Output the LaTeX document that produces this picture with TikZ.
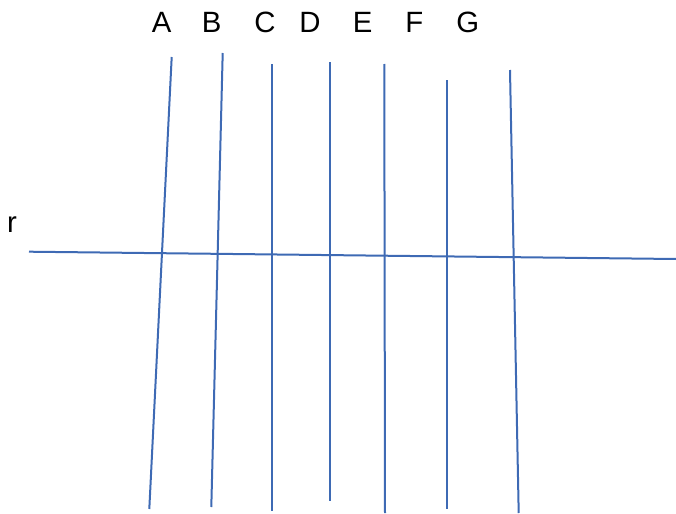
\documentclass[tikz,border=0pt]{standalone}
\usepackage{fontspec}
\setmainfont{Liberation Sans}
\usetikzlibrary{positioning}
\definecolor{lineblue}{RGB}{62,106,180}

\begin{document}
\begin{tikzpicture}[x=0.75pt, y=-0.75pt,
    blueline/.style={draw=lineblue, line width=1.5pt},
    lettre/.style={font=\fontsize{22}{26}\selectfont, inner sep=0pt}]
        \useasboundingbox (0,0) rectangle (676,514);

        % Nhãn các đường thẳng
        \node[lettre] (labA) at (161.7,22) {A};
        \node[lettre] (labB) at (211.7,22) {B};
        \node[lettre] (labC) at (265,22) {C};
        \node[lettre] (labD) at (310,22) {D};
        \node[lettre] (labE) at (362.7,22) {E};
        \node[lettre] (labF) at (414.3,22) {F};
        \node[lettre] (labG) at (467.7,22) {G};
        \node[lettre] (labr) at (12,225) {r};

        % Đầu mút các đường thẳng đứng
        \coordinate (Atop) at (171.7,57);   \coordinate (Abot) at (149.3,509);
        \coordinate (Btop) at (222.7,53);   \coordinate (Bbot) at (211.3,507);
        \coordinate (Ctop) at (272,64);     \coordinate (Cbot) at (272,510.7);
        \coordinate (Dtop) at (329.7,62);   \coordinate (Dbot) at (329.7,501);
        \coordinate (Etop) at (384.3,64);   \coordinate (Ebot) at (385,513);
        \coordinate (Ftop) at (446.7,80);   \coordinate (Fbot) at (446.7,509);
        \coordinate (Gtop) at (510,70);     \coordinate (Gbot) at (518.7,513);

        % Đường thẳng r
        \coordinate (rleft) at (29,251.7);
        \coordinate (rright) at (676,259);

        % Vẽ các đường
        \draw[blueline] (Atop) -- (Abot);
        \draw[blueline] (Btop) -- (Bbot);
        \draw[blueline] (Ctop) -- (Cbot);
        \draw[blueline] (Dtop) -- (Dbot);
        \draw[blueline] (Etop) -- (Ebot);
        \draw[blueline] (Ftop) -- (Fbot);
        \draw[blueline] (Gtop) -- (Gbot);
        \draw[blueline] (rleft) -- (rright);
\end{tikzpicture}
\end{document}
